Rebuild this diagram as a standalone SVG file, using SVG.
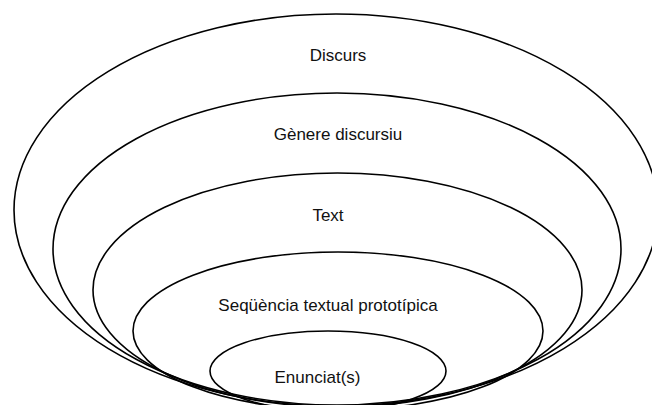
<svg xmlns="http://www.w3.org/2000/svg" width="652" height="405" viewBox="0 0 652 405">
  <style>
    .ring { fill: none; stroke: #000; stroke-width: 1.6; }
    .label { font-family: "Liberation Sans", Arial, Helvetica, sans-serif; font-size: 17px; fill: #111; text-anchor: middle; }
  </style>
  <rect width="652" height="405" fill="#fff"/>
  <!-- nested levels, outermost first; all sink toward the bottom edge -->
  <g id="discurs">
    <ellipse class="ring" cx="336" cy="210" rx="322" ry="196"/>
    <text class="label" x="338" y="61">Discurs</text>
  </g>
  <g id="genere-discursiu">
    <ellipse class="ring" cx="337" cy="249" rx="284" ry="156"/>
    <text class="label" x="338" y="140">Gènere discursiu</text>
  </g>
  <g id="text">
    <ellipse class="ring" cx="337.5" cy="290" rx="244.5" ry="117"/>
    <text class="label" x="328" y="221">Text</text>
  </g>
  <g id="sequencia">
    <ellipse class="ring" cx="338" cy="331" rx="205" ry="79"/>
    <text class="label" x="328" y="311">Seqüència textual prototípica</text>
  </g>
  <g id="enunciat">
    <ellipse class="ring" cx="328" cy="371" rx="118" ry="40"/>
    <text class="label" x="317.5" y="383">Enunciat(s)</text>
  </g>
  <g id="connectors"/>
</svg>
